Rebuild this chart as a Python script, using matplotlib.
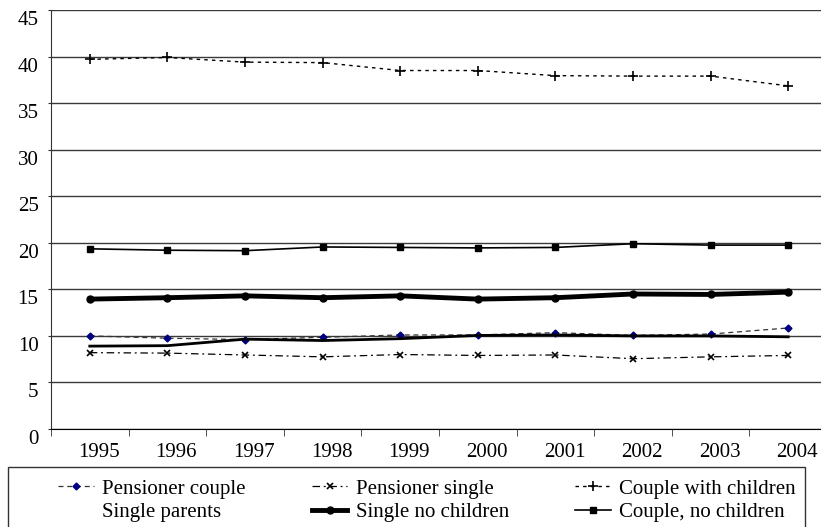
import matplotlib.pyplot as plt
import matplotlib.transforms as mtransforms
from matplotlib.lines import Line2D
from matplotlib.patches import Rectangle
import numpy as np

plt.rcParams['font.family'] = ['Liberation Serif', 'DejaVu Serif']

years = ['1995', '1996', '1997', '1998', '1999', '2000', '2001', '2002', '2003', '2004']
pensioner_couple = [10.0, 9.75, 9.6, 9.85, 10.1, 10.1, 10.35, 10.05, 10.2, 10.85]
pensioner_single = [8.2, 8.15, 7.95, 7.75, 8.0, 7.9, 7.95, 7.55, 7.75, 7.9]
couple_with_children = [39.7, 39.9, 39.4, 39.35, 38.5, 38.5, 37.95, 37.9, 37.9, 36.85]
single_parents = [8.9, 8.95, 9.65, 9.5, 9.7, 10.05, 10.1, 10.0, 10.0, 9.9]
single_no_children = [13.95, 14.1, 14.3, 14.1, 14.3, 13.95, 14.1, 14.5, 14.45, 14.7]
couple_no_children = [19.35, 19.2, 19.15, 19.55, 19.5, 19.45, 19.5, 19.9, 19.75, 19.75]

fig = plt.figure(figsize=(8.21, 5.27), dpi=100)
ax = fig.add_axes([51 / 821, 1 - 429 / 527, 776 / 821, 419 / 527])

x = np.arange(len(years))

ax.plot(x, pensioner_couple, color='#333333', lw=0.9, ls=(0, (4, 3)),
        marker='D', ms=3.5, mfc='#000080', mec='#000080', label='Pensioner couple')
ax.plot(x, pensioner_single, color='black', lw=0.9, ls=(0, (6, 3, 1.5, 3)),
        marker='x', ms=5, mew=1.2, label='Pensioner single')
ax.plot(x, couple_with_children, color='black', lw=1.0, ls=(0, (2.5, 3)),
        marker='+', ms=7, mew=1.2, label='Couple with children')
ax.plot(x, single_parents, color='black', lw=2.0, label='Single parents')
ax.plot(x, single_no_children, color='black', lw=3.5,
        marker='o', ms=5, label='Single no children')
ax.plot(x, couple_no_children, color='black', lw=1.2,
        marker='s', ms=4, label='Couple, no children')

ax.set_xlim(-0.5, len(years) - 0.5)
ax.set_ylim(0, 45)
ax.set_yticks(range(0, 46, 5))
ax.yaxis.grid(True, color='#3a3a3a', lw=1.0)
ax.set_axisbelow(True)

ax.set_xticks(x)
ax.set_xticklabels(years)
ax.set_xticks(np.arange(-0.5, len(years)), minor=True)
ax.tick_params(axis='x', which='major', length=0, pad=10, labelsize=15)
ax.tick_params(axis='x', which='minor', length=5, direction='out', color='#333333')
ax.tick_params(axis='y', length=2, pad=7, labelsize=15, color='#333333')

off_x = mtransforms.ScaledTranslation(9 / 100, 0, fig.dpi_scale_trans)
for lab in ax.get_xticklabels():
    lab.set_transform(lab.get_transform() + off_x)
off_y = mtransforms.ScaledTranslation(0, -8 / 100, fig.dpi_scale_trans)
for lab in ax.get_yticklabels():
    lab.set_transform(lab.get_transform() + off_y)

for side in ['top', 'right']:
    ax.spines[side].set_visible(False)
ax.spines['left'].set_color('#333333')
ax.spines['bottom'].set_color('black')

# legend box (drawn separately, runs off the bottom edge)
fig.patches.append(Rectangle((8 / 821, -0.05), 797 / 821, 0.05 + 60 / 527,
                             transform=fig.transFigure, fill=False,
                             edgecolor='#333333', lw=1.0))

h, l = ax.get_legend_handles_labels()
blank = Line2D([], [], linestyle='none')
order = [0, 3, 1, 4, 2, 5]
handles = [h[i] for i in order]
labels = [l[i] for i in order]
handles[1] = blank

leg = fig.legend(handles, labels, loc='upper left', ncol=3, mode='expand',
                 bbox_to_anchor=(52 / 821, 1 - 478 / 527, 750 / 821, 0.01),
                 bbox_transform=fig.transFigure,
                 fontsize=15, frameon=False,
                 handlelength=1.7, handletextpad=0.4, labelspacing=0.2,
                 borderpad=0.3, borderaxespad=0)

fig.savefig('out.png', dpi=100)
